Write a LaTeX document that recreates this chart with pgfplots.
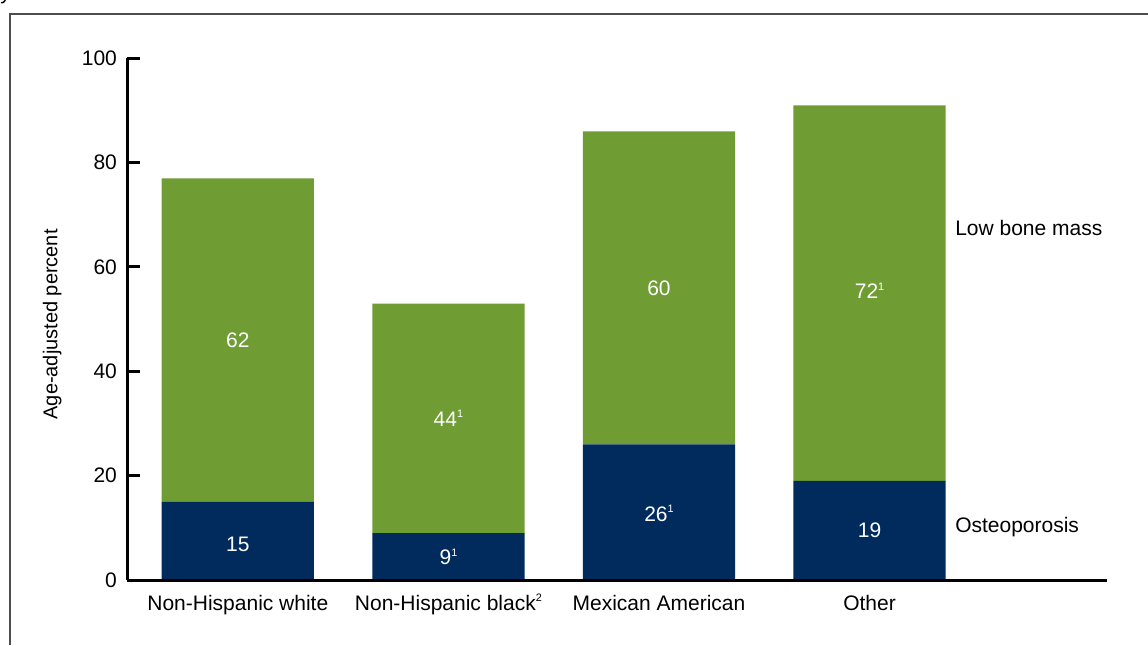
\documentclass[border=0pt]{standalone}
\usepackage{fontspec}
\setmainfont{Liberation Sans}
\usepackage{pgfplots}
\pgfplotsset{compat=1.18}

\definecolor{bonegreen}{HTML}{6F9D33}
\definecolor{navy}{HTML}{002B5C}
\definecolor{framegray}{HTML}{4D4D4D}

% small raised footnote marks
\newcommand\supn[1]{\raisebox{4.3pt}{\fontsize{5.4}{6}\selectfont #1}}

\pgfplotsset{
  bonebase/.style={
    at={(63.65pt,32.5pt)}, anchor=south west,
    scale only axis, width=490pt, height=260.85pt,
    xmin=-0.525, xmax=4.129, ymin=0, ymax=100,
    clip=false,
  },
}

\begin{document}
\fontsize{10.5}{12.6}\selectfont
\begin{tikzpicture}
  % outer frame (open on the right and bottom)
  \draw[framegray, line width=1pt] (5pt,0pt) -- (5pt,315.65pt) -- (580pt,315.65pt);
  \node[anchor=base west, inner sep=0pt] at (0pt,323pt) {y};

  \begin{axis}[bonebase,
      ybar stacked, bar width=76.15pt,
      axis on top,
      axis lines=left,
      axis line style={-, line width=1.5pt, black},
      xtick={0,1,2,3},
      xticklabels={Non-Hispanic white, Non-Hispanic black\supn{2}, Mexican American, Other},
      ytick={0,20,40,60,80,100},
      tick align=inside,
      major tick length=6.25pt,
      ytick style={line width=1.5pt, black},
      xtick style={draw=none},
      xticklabel style={anchor=base, yshift=-15pt},
      yticklabel style={xshift=-1.5pt},
      ylabel={Age-adjusted percent},
      ylabel style={at={(axis description cs:-0.0767,0.49)}, anchor=center,
        font=\fontsize{10}{12}\selectfont},
      /pgf/number format/assume math mode=true,
    ]
    \addplot[fill=navy, draw=none] coordinates {(0,15) (1,9) (2,26) (3,19)};
    \addplot[fill=bonegreen, draw=none] coordinates {(0,62) (1,44) (2,60) (3,72)};
  \end{axis}

  % value labels and series names
  \begin{axis}[bonebase, hide axis]
    \addplot[only marks, mark=*, mark size=0pt, mark options={draw=none, fill=none},
      nodes near coords, point meta=explicit symbolic,
      nodes near coords style={anchor=center, text=white}]
      coordinates {
        (0,6.8) [15] (1,4.4) [9\supn{1}] (2,12.8) [26\supn{1}] (3,9.5) [19]
        (0,46) [62] (1,31) [44\supn{1}] (2,56) [60] (3,55.4) [72\supn{1}]
      };
    \node[anchor=base west, inner sep=0pt] at (axis cs:3.405,66.1) {Low bone mass};
    \node[anchor=base west, inner sep=0pt] at (axis cs:3.405,9.2) {Osteoporosis};
  \end{axis}

  \pgfresetboundingbox
  \path[use as bounding box] (0pt,0pt) rectangle (574pt,322.5pt);
\end{tikzpicture}
\end{document}
